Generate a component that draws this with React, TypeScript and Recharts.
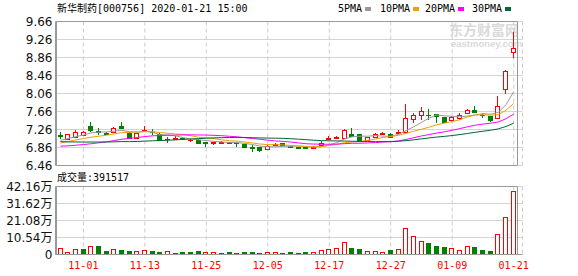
import { Bar, CartesianGrid, ComposedChart, Line, ReferenceArea, XAxis, YAxis } from "recharts";

// trading days shown, 2019-10-29 .. 2020-01-21
const dates = [
  "10-29", "10-30", "10-31", "11-01", "11-04", "11-05", "11-06", "11-07", "11-08", "11-11",
  "11-12", "11-13", "11-14", "11-15", "11-18", "11-19", "11-20", "11-21", "11-22", "11-25",
  "11-26", "11-27", "11-28", "11-29", "12-02", "12-03", "12-04", "12-05", "12-06", "12-09",
  "12-10", "12-11", "12-12", "12-13", "12-16", "12-17", "12-18", "12-19", "12-20", "12-23",
  "12-24", "12-25", "12-26", "12-27", "12-30", "12-31", "01-02", "01-03", "01-06", "01-07",
  "01-08", "01-09", "01-10", "01-13", "01-14", "01-15", "01-16", "01-17", "01-20", "01-21",
];

const opens = [
  7.13, 7.06, 7.1, 7.14, 7.34, 7.22, 7.18, 7.21, 7.33, 7.18,
  7.08, 7.23, 7.21, 7.16, 7.05, 7.06, 7.08, 7.02, 7.03, 6.98,
  6.96, 6.97, 6.98, 6.96, 6.93, 6.87, 6.87, 6.83, 6.92, 6.96,
  6.89, 6.87, 6.86, 6.84, 6.92, 7.06, 7.08, 7.08, 7.17, 7.15,
  7.02, 7.09, 7.16, 7.17, 7.19, 7.2, 7.5, 7.59, 7.59, 7.61,
  7.53, 7.47, 7.52, 7.62, 7.7, 7.59, 7.56, 7.52, 8.15, 8.99,
];
const highs = [
  7.2, 7.16, 7.24, 7.22, 7.43, 7.3, 7.2, 7.31, 7.42, 7.2,
  7.19, 7.33, 7.27, 7.18, 7.09, 7.11, 7.1, 7.06, 7.04, 6.99,
  6.99, 7.0, 6.99, 6.97, 6.93, 6.91, 6.87, 6.92, 6.96, 6.96,
  6.9, 6.88, 6.87, 6.89, 7.0, 7.12, 7.11, 7.28, 7.3, 7.16,
  7.1, 7.18, 7.2, 7.18, 7.25, 7.82, 7.63, 7.77, 7.72, 7.61,
  7.53, 7.55, 7.62, 7.72, 7.78, 7.62, 7.56, 8.0, 8.59, 9.42,
];
const lows = [
  7.06, 7.05, 7.09, 7.12, 7.2, 7.14, 7.16, 7.2, 7.27, 7.06,
  7.06, 7.2, 7.13, 7.02, 6.96, 7.05, 7.04, 6.99, 6.93, 6.87,
  6.92, 6.95, 6.95, 6.87, 6.86, 6.77, 6.75, 6.81, 6.9, 6.9,
  6.85, 6.83, 6.82, 6.83, 6.89, 7.04, 7.05, 7.08, 7.1, 7.0,
  7.01, 7.08, 7.13, 7.09, 7.15, 7.18, 7.41, 7.48, 7.48, 7.41,
  7.41, 7.45, 7.48, 7.6, 7.62, 7.51, 7.43, 7.5, 8.04, 8.84,
];
const closes = [
  7.12, 7.15, 7.21, 7.2, 7.24, 7.21, 7.17, 7.3, 7.29, 7.08,
  7.18, 7.24, 7.2, 7.02, 7.06, 7.07, 7.05, 7.03, 6.95, 6.97,
  6.98, 6.99, 6.96, 6.95, 6.87, 6.86, 6.81, 6.9, 6.94, 6.91,
  6.87, 6.85, 6.84, 6.88, 6.95, 7.08, 7.1, 7.25, 7.11, 7.01,
  7.09, 7.17, 7.18, 7.1, 7.21, 7.52, 7.59, 7.67, 7.58, 7.55,
  7.43, 7.54, 7.59, 7.7, 7.65, 7.58, 7.48, 7.79, 8.56, 9.08,
];
// closes before 10-29, estimated from where the MA lines start
const preCloses = [
  7.3, 7.28, 7.25, 7.22, 7.2, 7.18, 7.16, 7.14, 7.1, 7.07,
  7.02, 6.95, 6.9, 6.85, 6.8, 6.76, 6.72, 6.7, 6.73, 6.77,
  6.82, 6.86, 6.9, 6.94, 6.98, 6.96, 7.0, 7.02, 7.0,
];
const volumes = [
  38500, 17500, 34000, 34000, 53000, 53000, 22000, 32000, 26000, 22000,
  20000, 26000, 22000, 15500, 20000, 11000, 15000, 12500, 22000, 14000,
  12500, 12000, 12500, 12000, 13000, 12500, 12000, 14000, 12500, 12000,
  12500, 12000, 15500, 14000, 26000, 32000, 41000, 76000, 41000, 36000,
  20000, 20000, 12500, 28000, 33000, 164000, 115000, 82000, 71000, 53000,
  46500, 40000, 28000, 53000, 46500, 28000, 22000, 127000, 233000, 391517,
];

const priceTicks = [6.46, 6.86, 7.26, 7.66, 8.06, 8.46, 8.86, 9.26, 9.66];
const volumeTicks = [0, 105400, 210800, 316200, 421600];
const dateTicks = ["11-01", "11-13", "11-25", "12-05", "12-17", "12-27", "01-09", "01-21"];
const maPeriods = [5, 10, 20, 30];
const maColors = ["#999999", "#f0a000", "#ff00ff", "#006633"];

const RED = "#ff0000";
const GREEN = "#008000";
const MONO = "'DejaVu Sans Mono', 'Noto Sans CJK SC', monospace";
const AXIS_FONT = "'DejaVu Sans', 'Noto Sans CJK SC', sans-serif";

const allCloses = [...preCloses, ...closes];
const movingAvg = (end: number, n: number) => {
  let sum = 0;
  for (let j = end - n + 1; j <= end; j++) sum += allCloses[j];
  return sum / n;
};

const data = dates.map((date, i) => {
  const k = i + preCloses.length;
  const row: Record<string, any> = {
    date,
    open: opens[i],
    high: highs[i],
    low: lows[i],
    close: closes[i],
    range: [lows[i], highs[i]],
    volume: volumes[i],
    rise: closes[i] >= allCloses[k - 1],
  };
  maPeriods.forEach((n) => {
    row[`ma${n}`] = movingAvg(k, n);
  });
  return row;
});

function Candle(props: any) {
  const { x, y, width, height, payload } = props;
  if (x == null || y == null) return null;
  const { open, close, high, low } = payload;
  const top = Math.min(y, y + height);
  const h = Math.abs(height);
  const span = high - low;
  const py = (v: number) => (span > 0 ? top + ((high - v) / span) * h : top);
  const c = Math.floor(x + width / 2);
  const cx = c + 0.5;
  const up = close > open;
  const color = up ? RED : close < open ? GREEN : payload.rise ? RED : GREEN;
  const r1 = Math.round(py(Math.max(open, close)));
  const r2 = Math.round(py(Math.min(open, close)));
  const yh = Math.round(py(high));
  const yl = Math.round(py(low));
  return (
    <g>
      <line x1={cx} x2={cx} y1={yh} y2={Math.max(yl, yh + 1)} stroke={color} />
      {r2 - r1 < 1 ? (
        <line x1={cx - 2.5} x2={cx + 2.5} y1={r1 + 0.5} y2={r1 + 0.5} stroke={color} />
      ) : (
        <rect x={cx - 2} y={r1 + 0.5} width={4} height={r2 - r1} fill={up ? "#fff" : color} stroke={color} />
      )}
    </g>
  );
}

function VolumeBar(props: any) {
  const { x, y, width, height, payload } = props;
  if (x == null || y == null) return null;
  const c = Math.floor(x + width / 2);
  const top = Math.round(y);
  const bottom = Math.round(y + height);
  if (payload.rise) {
    return (
      <rect x={c - 1.5} y={top + 0.5} width={4} height={Math.max(bottom - top - 1, 0)} fill="#fff" stroke={RED} />
    );
  }
  return <rect x={c - 2} y={top} width={5} height={Math.max(bottom - top, 1)} fill={GREEN} />;
}

const formatVolume = (v: number) => (v === 0 ? "0" : `${(v / 10000).toFixed(2)}万`);

const legendX = [338, 380, 425, 472];

export default function App() {
  const last = volumes[volumes.length - 1];
  return (
    <div style={{ position: "absolute", left: 0, top: 0, width: 578, height: 276, background: "#fff", overflow: "hidden" }}>
      {/* watermark */}
      <div style={{ position: "absolute", left: 449, top: 21, color: "#dadada", fontFamily: "'Noto Sans CJK SC', sans-serif", fontWeight: 700, fontSize: 14, lineHeight: "17px" }}>
        东方财富网
      </div>
      <div style={{ position: "absolute", left: 451, top: 39, color: "#dadada", fontFamily: "'Liberation Sans', sans-serif", fontWeight: 700, fontSize: 9.5, lineHeight: "10px" }}>
        eastmoney.com
      </div>

      <div style={{ position: "absolute", left: 0, top: 170 }}>
        <ComposedChart width={578} height={106} data={data} margin={{ top: 16.5, right: 55.5, bottom: 0.5, left: 0 }}>
          <CartesianGrid vertical={false} stroke="#d4d4d4" />
          <CartesianGrid horizontal={false} stroke="#cccccc" strokeDasharray="4 3" />
          <XAxis
            dataKey="date"
            ticks={dateTicks}
            interval={0}
            height={21}
            padding={{ left: 1, right: 5 }}
            tickSize={0}
            tickMargin={7}
            tick={{ fontSize: 10, fontFamily: MONO, fill: RED }}
            axisLine={{ stroke: "#999" }}
          />
          <YAxis
            type="number"
            domain={[volumeTicks[0], volumeTicks[volumeTicks.length - 1]]}
            ticks={volumeTicks}
            interval={0}
            width={55.5}
            tickSize={0}
            tickMargin={3}
            tickFormatter={formatVolume}
            tick={{ fontSize: 12, fontFamily: AXIS_FONT, fill: "#111" }}
            axisLine={{ stroke: "#999" }}
          />
          <ReferenceArea y1={volumeTicks[0]} y2={volumeTicks[volumeTicks.length - 1]} fill="none" stroke="#999" />
          <Bar dataKey="volume" barSize={5} shape={<VolumeBar />} isAnimationActive={false} />
        </ComposedChart>
      </div>

      <div style={{ position: "absolute", left: 0, top: 0 }}>
        <ComposedChart width={578} height={178} data={data} margin={{ top: 21.5, right: 55.5, bottom: 12.5, left: 0 }}>
          <CartesianGrid vertical={false} stroke="#d4d4d4" />
          <CartesianGrid horizontal={false} stroke="#cccccc" strokeDasharray="4 3" />
          <XAxis dataKey="date" ticks={dateTicks} hide padding={{ left: 1, right: 5 }} />
          <YAxis
            type="number"
            domain={[priceTicks[0], priceTicks[priceTicks.length - 1]]}
            ticks={priceTicks}
            interval={0}
            width={55.5}
            tickSize={0}
            tickMargin={3}
            tickFormatter={(v: number) => v.toFixed(2)}
            tick={{ fontSize: 12, fontFamily: AXIS_FONT, fill: "#111" }}
            axisLine={{ stroke: "#999" }}
          />
          <ReferenceArea y1={priceTicks[0]} y2={priceTicks[priceTicks.length - 1]} fill="none" stroke="#999" />
          <Bar dataKey="range" barSize={5} shape={<Candle />} isAnimationActive={false} />
          {maPeriods.map((n, i) => (
            <Line
              key={n}
              type="linear"
              dataKey={`ma${n}`}
              stroke={maColors[i]}
              strokeWidth={1}
              dot={false}
              activeDot={false}
              isAnimationActive={false}
            />
          ))}
        </ComposedChart>
      </div>

      <div style={{ position: "absolute", left: 57, top: 2, fontFamily: MONO, fontSize: 10, lineHeight: "14px", color: "#000", whiteSpace: "pre" }}>
        新华制药[000756] 2020-01-21 15:00
      </div>
      {maPeriods.map((n, i) => (
        <div
          key={n}
          style={{ position: "absolute", left: legendX[i], top: 2, fontFamily: MONO, fontSize: 10, lineHeight: "14px", color: "#000", display: "flex", alignItems: "center" }}
        >
          {`${n}PMA`}
          <span style={{ display: "inline-block", width: 6, height: 4, marginLeft: 3, background: maColors[i] }} />
        </div>
      ))}
      <div style={{ position: "absolute", left: 57, top: 171, fontFamily: MONO, fontSize: 10, lineHeight: "14px", color: "#000", whiteSpace: "pre" }}>
        {`成交量:${last}`}
      </div>
    </div>
  );
}
